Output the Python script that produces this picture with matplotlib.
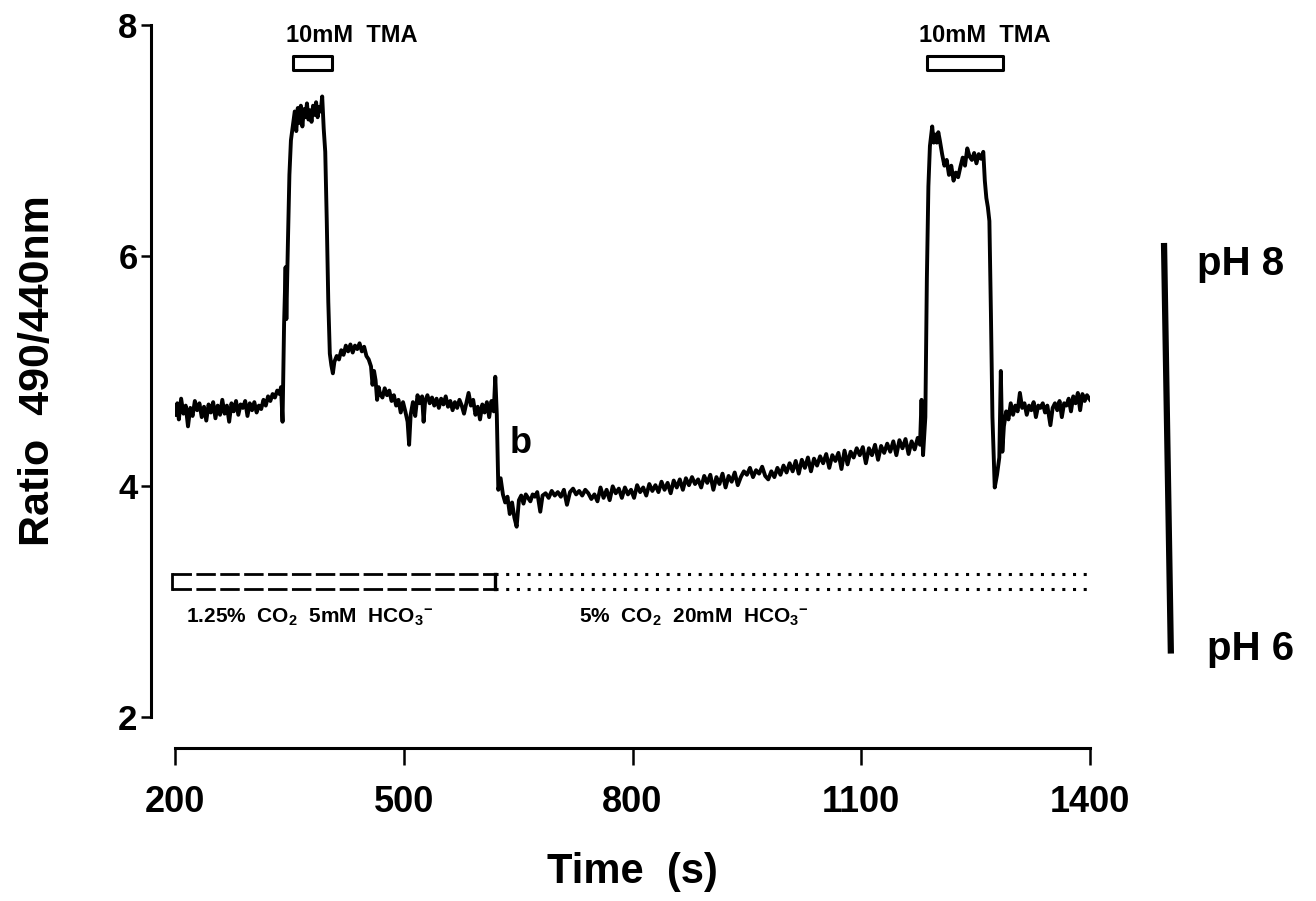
import numpy as np
import matplotlib.pyplot as plt
from matplotlib.patches import Rectangle

plt.rcParams['font.family'] = ['Liberation Sans', 'DejaVu Sans']
plt.rcParams['font.weight'] = 'bold'
plt.rcParams['axes.labelweight'] = 'bold'
plt.rcParams['mathtext.fontset'] = 'custom'
plt.rcParams['mathtext.rm'] = 'Liberation Sans:bold'
plt.rcParams['mathtext.it'] = 'Liberation Sans:bold'
plt.rcParams['mathtext.bf'] = 'Liberation Sans:bold'

# trace (time in s, ratio 490/440)
trace_t = [
    200, 203, 205, 208, 211, 214, 217, 220, 223, 226, 229, 232, 235, 238, 241, 244,
    247, 250, 253, 256, 259, 262, 265, 268, 271, 274, 277, 280, 283, 286, 289, 292,
    295, 298, 301, 304, 307, 310, 313, 316, 319, 322, 325, 328, 331, 334, 337, 339,
    341, 343, 345, 346, 348, 350, 352, 355, 357, 359, 361, 363, 365, 367, 369, 371,
    373, 375, 377, 379, 381, 383, 385, 387, 389, 391, 393, 395, 397, 399, 401, 403,
    405, 407, 409, 412, 415, 418, 421, 424, 427, 430, 433, 436, 439, 442, 445, 448,
    451, 454, 457, 459, 461, 463, 465, 467, 469, 472, 475, 478, 481, 484, 487, 490,
    493, 496, 499, 502, 505, 507, 509, 512, 515, 518, 521, 524, 526, 528, 531, 534,
    537, 540, 543, 546, 549, 552, 555, 558, 561, 564, 567, 570, 573, 576, 579, 582,
    585, 588, 591, 594, 597, 600, 603, 606, 609, 612, 615, 618, 620, 622, 624, 627,
    630, 633, 636, 639, 642, 645, 648, 651, 654, 657, 660, 663, 666, 669, 672, 675,
    679, 682, 686, 690, 694, 698, 702, 706, 710, 714, 718, 722, 726, 730, 734, 738,
    742, 746, 750, 754, 758, 762, 766, 770, 774, 778, 782, 786, 790, 794, 798, 802,
    806, 810, 814, 818, 822, 826, 830, 834, 838, 842, 846, 850, 854, 858, 862, 866,
    870, 874, 878, 882, 886, 890, 894, 898, 902, 906, 910, 914, 918, 922, 926, 930,
    934, 938, 942, 946, 950, 954, 958, 962, 966, 970, 974, 978, 982, 986, 990, 994,
    998, 1002, 1006, 1010, 1014, 1018, 1022, 1026, 1030, 1034, 1038, 1042, 1046, 1050,
    1054, 1058, 1062, 1066, 1070, 1074, 1078, 1082, 1086, 1090, 1094, 1098, 1102, 1106,
    1110, 1114, 1118, 1122, 1126, 1130, 1134, 1138, 1142, 1146, 1150, 1154, 1158, 1162,
    1166, 1170, 1174, 1177, 1179, 1181, 1184, 1186, 1188, 1190, 1193, 1195, 1197, 1199,
    1201, 1203, 1206, 1209, 1212, 1215, 1218, 1221, 1224, 1227, 1230, 1233, 1236, 1239,
    1242, 1245, 1248, 1251, 1254, 1257, 1260, 1262, 1264, 1266, 1268, 1270, 1272, 1275,
    1278, 1281, 1283, 1285, 1287, 1290, 1293, 1296, 1299, 1302, 1305, 1308, 1311, 1314,
    1317, 1320, 1323, 1326, 1329, 1332, 1335, 1338, 1341, 1344, 1348, 1351, 1354, 1357,
    1360, 1363, 1366, 1369, 1372, 1375, 1378, 1381, 1384, 1387, 1390, 1393, 1396, 1400,
]
trace_ratio = [
    4.62, 4.72, 4.58, 4.76, 4.63, 4.70, 4.52, 4.68, 4.61, 4.74, 4.66, 4.72, 4.60, 4.69, 4.57, 4.71,
    4.64, 4.73, 4.59, 4.70, 4.62, 4.75, 4.63, 4.70, 4.56, 4.72, 4.65, 4.74, 4.62, 4.71, 4.68, 4.74,
    4.61, 4.72, 4.66, 4.73, 4.64, 4.70, 4.67, 4.75, 4.70, 4.78, 4.74, 4.80, 4.77, 4.83, 4.80, 4.86,
    4.56, 5.40, 5.90, 5.45, 6.10, 6.70, 7.00, 7.15, 7.25, 7.08, 7.28, 7.15, 7.30, 7.12, 7.27, 7.20,
    7.32, 7.18, 7.26, 7.16, 7.30, 7.22, 7.33, 7.20, 7.29, 7.25, 7.38, 7.10, 6.90, 6.30, 5.60, 5.15,
    5.05, 4.98, 5.08, 5.13, 5.10, 5.18, 5.14, 5.22, 5.17, 5.23, 5.16, 5.22, 5.19, 5.24, 5.17, 5.21,
    5.13, 5.10, 5.04, 4.88, 5.00, 4.92, 4.75, 4.86, 4.80, 4.77, 4.85, 4.79, 4.83, 4.74, 4.79, 4.70,
    4.75, 4.64, 4.73, 4.65, 4.56, 4.36, 4.62, 4.73, 4.61, 4.79, 4.72, 4.78, 4.56, 4.74, 4.79, 4.72,
    4.77, 4.70, 4.76, 4.68, 4.76, 4.71, 4.78, 4.69, 4.74, 4.66, 4.73, 4.68, 4.75, 4.70, 4.63, 4.72,
    4.81, 4.70, 4.75, 4.62, 4.69, 4.58, 4.71, 4.64, 4.73, 4.60, 4.74, 4.65, 4.95, 4.62, 3.97, 4.07,
    3.93, 3.86, 3.91, 3.76, 3.86, 3.73, 3.65, 3.88, 3.92, 3.85, 3.93, 3.90, 3.87, 3.93, 3.91, 3.95,
    3.78, 3.92, 3.94, 3.90, 3.96, 3.92, 3.95, 3.91, 3.97, 3.84, 3.95, 3.98, 3.93, 3.96, 3.92, 3.97,
    3.94, 3.89, 3.93, 3.87, 3.99, 3.90, 3.97, 3.88, 4.00, 3.94, 3.98, 3.90, 3.99, 3.93, 3.97, 3.90,
    4.01, 3.95, 3.99, 3.92, 4.02, 3.96, 4.01, 3.95, 4.04, 3.97, 4.03, 3.94, 4.05, 3.99, 4.06, 3.97,
    4.07, 4.01, 4.08, 4.02, 4.06, 3.99, 4.09, 4.03, 4.10, 3.97, 4.08, 4.02, 4.11, 3.99, 4.09, 4.04,
    4.12, 4.01, 4.08, 4.13, 4.10, 4.16, 4.08, 4.14, 4.11, 4.17, 4.09, 4.06, 4.13, 4.08, 4.16, 4.10,
    4.18, 4.12, 4.20, 4.13, 4.22, 4.11, 4.23, 4.16, 4.25, 4.13, 4.24, 4.18, 4.26, 4.20,
    4.28, 4.16, 4.27, 4.22, 4.29, 4.15, 4.31, 4.19, 4.30, 4.25, 4.33, 4.27, 4.34, 4.20,
    4.33, 4.27, 4.36, 4.23, 4.35, 4.29, 4.37, 4.30, 4.39, 4.27, 4.40, 4.33, 4.41, 4.28,
    4.39, 4.32, 4.42, 4.36, 4.75, 4.27, 4.60, 5.80, 6.60, 6.95, 7.12, 6.98, 7.05, 6.98,
    7.07, 7.00, 6.88, 6.78, 6.83, 6.70, 6.78, 6.65, 6.72, 6.68, 6.77, 6.85, 6.78, 6.93,
    6.86, 6.83, 6.89, 6.80, 6.88, 6.84, 6.90, 6.65, 6.50, 6.42, 6.30, 5.50, 4.60, 3.99,
    4.10, 4.25, 5.00, 4.30, 4.52, 4.65, 4.58, 4.72, 4.62, 4.70, 4.65, 4.81, 4.68, 4.72,
    4.62, 4.70, 4.66, 4.73, 4.60, 4.70, 4.68, 4.72, 4.64, 4.70, 4.53, 4.68, 4.72, 4.66,
    4.74, 4.60, 4.72, 4.70, 4.76, 4.65, 4.78, 4.72, 4.81, 4.66, 4.80, 4.74, 4.79, 4.75,
]

x_ticks = [200, 500, 800, 1100, 1400]
y_ticks = [2, 4, 6, 8]

tma_label = "10mM  TMA"
tma_bars = [(355, 406), (1186, 1286)]      # start, end (s)
tma_label_x = [345, 1176]
co2_low_end = 620                          # change of solution (s)
co2_labels = [(214, r"1.25%  CO$_2$  5mM  HCO$_3{}^{-}$"),
              (730, r"5%  CO$_2$  20mM  HCO$_3{}^{-}$")]
ph_scale = [(1497, 6.11), (1506, 2.55)]
ph_labels = [(1540, 5.83, "pH 8"), (1553, 2.49, "pH 6")]

fig = plt.figure(figsize=(13.16, 9.01), dpi=100)
ax = fig.add_axes([0.1330, 0.2042, 0.6953, 0.7681])

ax.plot(trace_t, trace_ratio, color='black', lw=2.8, solid_joinstyle='round')

ax.set_xlim(200, 1400)
ax.set_ylim(2, 8)
ax.spines['top'].set_visible(False)
ax.spines['right'].set_visible(False)
ax.spines['left'].set_position(('outward', 17))
ax.spines['bottom'].set_position(('outward', 22))
ax.spines['left'].set_bounds(2, 8)
ax.spines['bottom'].set_bounds(200, 1400)
ax.spines['left'].set_linewidth(2.2)
ax.spines['bottom'].set_linewidth(2.2)
ax.set_xticks(x_ticks)
ax.set_yticks(y_ticks)
ax.tick_params(axis='x', direction='out', length=12, width=1.8, pad=15, labelsize=26)
ax.tick_params(axis='y', direction='out', length=7, width=1.8, pad=3, labelsize=25)

ax.set_ylabel("Ratio  490/440nm", fontsize=31)
ax.yaxis.set_label_coords(-0.128, 0.5)
ax.set_xlabel("Time  (s)", fontsize=30)
ax.xaxis.set_label_coords(0.5, -0.195)

# TMA application bars
for (t0, t1), lx in zip(tma_bars, tma_label_x):
    ax.add_patch(Rectangle((t0, 7.61), t1 - t0, 0.12, fill=False, lw=2.2,
                           joinstyle='round', clip_on=False))
    ax.text(lx, 7.91, tma_label, fontsize=17, ha='left', va='center')

# CO2 / HCO3 bars
y_top, y_bot = 3.24, 3.11
for yy in (y_top, y_bot):
    ax.plot([196, co2_low_end], [yy, yy], color='black', lw=2.0,
            dashes=(7.0, 1.6), clip_on=False)
    ax.plot([co2_low_end, 1400], [yy, yy], color='black', lw=2.2,
            linestyle=(0, (1, 2.5)), clip_on=False)
ax.plot([196, 196], [y_bot, y_top], color='black', lw=2.0, clip_on=False)
ax.plot([co2_low_end, co2_low_end], [y_bot, y_top], color='black', lw=2.4, clip_on=False)
for lx, txt in co2_labels:
    ax.text(lx, 2.86, txt, fontsize=15, ha='left', va='center')

ax.text(639, 4.37, "b", fontsize=26, ha='left', va='center')

# pH calibration bar
ax.plot([p[0] for p in ph_scale], [p[1] for p in ph_scale], color='black',
        lw=4.5, solid_capstyle='butt', clip_on=False)
for lx, ly, txt in ph_labels:
    ax.text(lx, ly, txt, fontsize=29, ha='left', va='baseline', clip_on=False)

fig.savefig("out.png", dpi=100)
